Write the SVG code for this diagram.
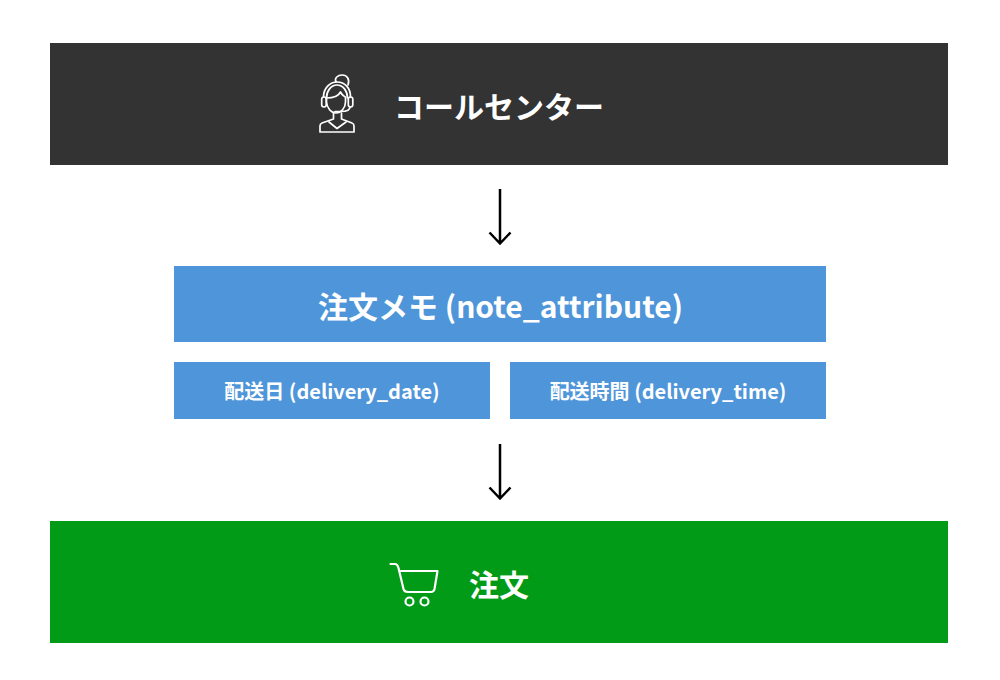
<svg xmlns="http://www.w3.org/2000/svg" width="1000" height="680" viewBox="0 0 1000 680">
<style>
text{font-family:"Noto Sans CJK JP","Noto Sans",sans-serif;font-weight:700;fill:#fff}
.icon{fill:none;stroke:#fff;stroke-width:1.700;stroke-linecap:round;stroke-linejoin:round}
.cart{stroke-width:2.200}
.arrow{fill:none;stroke:#000;stroke-width:2.500}
</style>
<rect width="1000" height="680" fill="#fff"/>
<g id="callcenter">
<rect x="50" y="43" width="898" height="122" fill="#333333"/>
<g class="icon">
<path d="M336 82C334 78 338 75 342 75C347 75 350 79 348 85"/>
<path d="M323.500 97C323.500 88 330 82 337 82C345 82 350.500 88 350.500 97"/>
<path d="M326.500 98C326.500 91 331 85 337 85C343 85 347.500 91 347.500 98"/>
<path d="M326.500 98C332 98 338 97 340.500 92C342 95 345 97 345.500 97V102C345.500 108 341 113 336 113C331 113 327 108 326.500 102Z"/>
<rect x="321.700" y="97" width="4.500" height="10" rx="2.200"/>
<rect x="348.300" y="97" width="4.500" height="10" rx="2.200"/>
<path d="M350 107C350 110 346 111.500 341 111.500H335"/>
<path d="M333.500 113V119L322 123C320.500 123.500 320 124.500 320 126V132H354V126C354 124.500 353.500 123.500 352 123L341.500 119V113"/>
<path d="M329 122L337 128.500L346 122"/>
</g>
<text x="499" y="118" font-size="30" text-anchor="middle">コールセンター</text>
</g>
<g id="note">
<rect x="174" y="266" width="652" height="76" fill="#4f95d9"/>
<text x="500.500" y="317.500" font-size="30" text-anchor="middle">注文メモ (note_attribute)</text>
</g>
<g id="date">
<rect x="174" y="362" width="316" height="57" fill="#4f95d9"/>
<text x="332" y="399" font-size="20" text-anchor="middle">配送日 (delivery_date)</text>
</g>
<g id="time">
<rect x="510" y="362" width="316" height="57" fill="#4f95d9"/>
<text x="668" y="399" font-size="20" text-anchor="middle">配送時間 (delivery_time)</text>
</g>
<g id="order">
<rect x="50" y="521" width="898" height="122" fill="#029b17"/>
<g class="icon cart">
<path d="M390.500 564H395C397 564 398 566 398.500 568L403.500 589C404 591 406 592 408 592H431C433 592 434 591 434.500 589L437.500 571H399"/>
<circle cx="409.500" cy="601.500" r="4"/>
<circle cx="424.500" cy="601.500" r="4"/>
</g>
<text x="499" y="596" font-size="30" text-anchor="middle">注文</text>
</g>
<g id="connectors" class="arrow">
<path d="M500 189V243M489.500 232.500L500 243.500L510.500 232.500"/>
<path d="M500 444V498M489.500 487.500L500 498.500L510.500 487.500"/>
</g>
</svg>
